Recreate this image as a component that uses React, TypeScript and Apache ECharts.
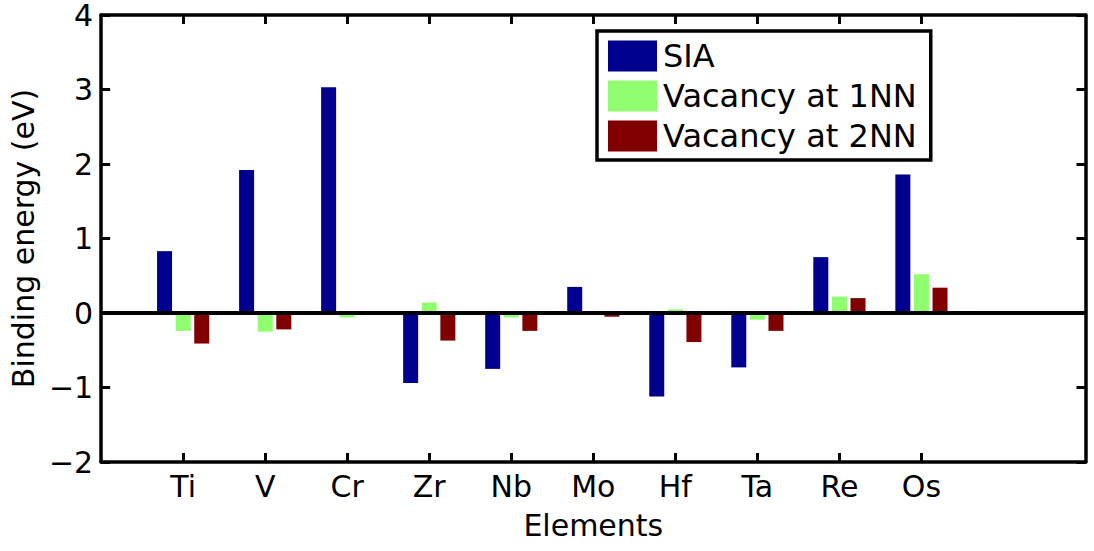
import React, { useEffect, useRef } from "react";
import * as echarts from "echarts";

const categories = ["", "Ti", "V", "Cr", "Zr", "Nb", "Mo", "Hf", "Ta", "Re", "Os", "", ""];
const sia = [null, 0.83, 1.92, 3.03, -0.94, -0.75, 0.35, -1.12, -0.73, 0.75, 1.86, null, null];
const vac1 = [null, -0.24, -0.25, -0.06, 0.14, -0.06, 0.02, 0.05, -0.09, 0.22, 0.52, null, null];
const vac2 = [null, -0.41, -0.22, -0.02, -0.37, -0.24, -0.05, -0.39, -0.24, 0.2, 0.34, null, null];
const seriesNames = ["SIA", "Vacancy at 1NN", "Vacancy at 2NN"];
const colors = ["#00008F", "#8FFF70", "#800000"];

const FONT = "DejaVu Sans";
const FS = 30;

export default function App() {
  const ref = useRef<HTMLDivElement>(null);
  useEffect(() => {
    if (!ref.current) return;
    const chart = echarts.init(ref.current, null, { renderer: "svg" });
    const tickShow = (_i: number, v: string) => v !== "";
    const option: any = {
      animation: false,
      backgroundColor: "#fff",
      textStyle: { fontFamily: FONT, color: "#000" },
      grid: { left: 94.5, right: 8.5, top: 12, bottom: 89, containLabel: false },
      legend: {
        orient: "vertical",
        left: 597,
        top: 31,
        icon: "rect",
        itemWidth: 49,
        itemHeight: 31,
        itemGap: 8,
        padding: [9, 14, 8, 11],
        borderColor: "#000",
        borderWidth: 3.5,
        backgroundColor: "#fff",
        textStyle: { fontSize: 32, fontFamily: FONT, color: "#000", padding: [0, 0, 0, 1] },
        data: seriesNames,
      },
      xAxis: [
        {
          type: "category",
          data: categories,
          boundaryGap: false,
          position: "bottom",
          name: "Elements",
          nameLocation: "middle",
          nameGap: 48,
          nameTextStyle: { fontSize: FS, fontFamily: FONT, color: "#000" },
          axisLine: { onZero: false, lineStyle: { color: "#000", width: 3.5 } },
          axisTick: { inside: true, length: 9, interval: tickShow, lineStyle: { width: 3, color: "#000" } },
          axisLabel: { interval: tickShow, fontSize: FS, fontFamily: FONT, color: "#000", margin: 9 },
          splitLine: { show: false },
        },
        {
          type: "category",
          data: categories,
          boundaryGap: false,
          position: "top",
          axisLine: { onZero: false, lineStyle: { color: "#000", width: 3.5 } },
          axisTick: { inside: true, length: 9, interval: tickShow, lineStyle: { width: 3, color: "#000" } },
          axisLabel: { show: false },
          splitLine: { show: false },
        },
      ],
      yAxis: [
        {
          type: "value",
          min: -2,
          max: 4,
          interval: 1,
          position: "left",
          name: "Binding energy (eV)",
          nameLocation: "middle",
          nameGap: 58,
          nameTextStyle: { fontSize: FS, fontFamily: FONT, color: "#000" },
          axisLine: { show: true, lineStyle: { color: "#000", width: 3.5 } },
          axisTick: { show: true, inside: true, length: 9, lineStyle: { width: 3, color: "#000" } },
          axisLabel: {
            fontSize: FS,
            fontFamily: FONT,
            color: "#000",
            margin: 8,
            formatter: (v: number) => String(v).replace("-", "\u2212"),
          },
          splitLine: { show: false },
        },
        {
          type: "value",
          min: -2,
          max: 4,
          interval: 1,
          position: "right",
          axisLine: { show: true, lineStyle: { color: "#000", width: 3.5 } },
          axisTick: { show: true, inside: true, length: 9, lineStyle: { width: 3, color: "#000" } },
          axisLabel: { show: false },
          splitLine: { show: false },
        },
      ],
      series: [
        {
          name: seriesNames[0],
          type: "bar",
          data: sia,
          barWidth: 15,
          barGap: "24%",
          itemStyle: { color: colors[0] },
          markLine: {
            silent: true,
            symbol: "none",
            label: { show: false },
            lineStyle: { color: "#000", width: 4, type: "solid" },
            data: [{ yAxis: 0 }],
            z: 10,
          },
        },
        {
          name: seriesNames[1],
          type: "bar",
          data: vac1,
          barWidth: 15,
          barGap: "24%",
          itemStyle: { color: colors[1] },
        },
        {
          name: seriesNames[2],
          type: "bar",
          data: vac2,
          barWidth: 15,
          barGap: "24%",
          itemStyle: { color: colors[2] },
        },
      ],
    };
    chart.setOption(option);
    return () => chart.dispose();
  }, []);
  return (
    <div
      ref={ref}
      style={{ position: "fixed", left: 0, top: 0, width: 1094, height: 551, background: "#fff" }}
    />
  );
}
